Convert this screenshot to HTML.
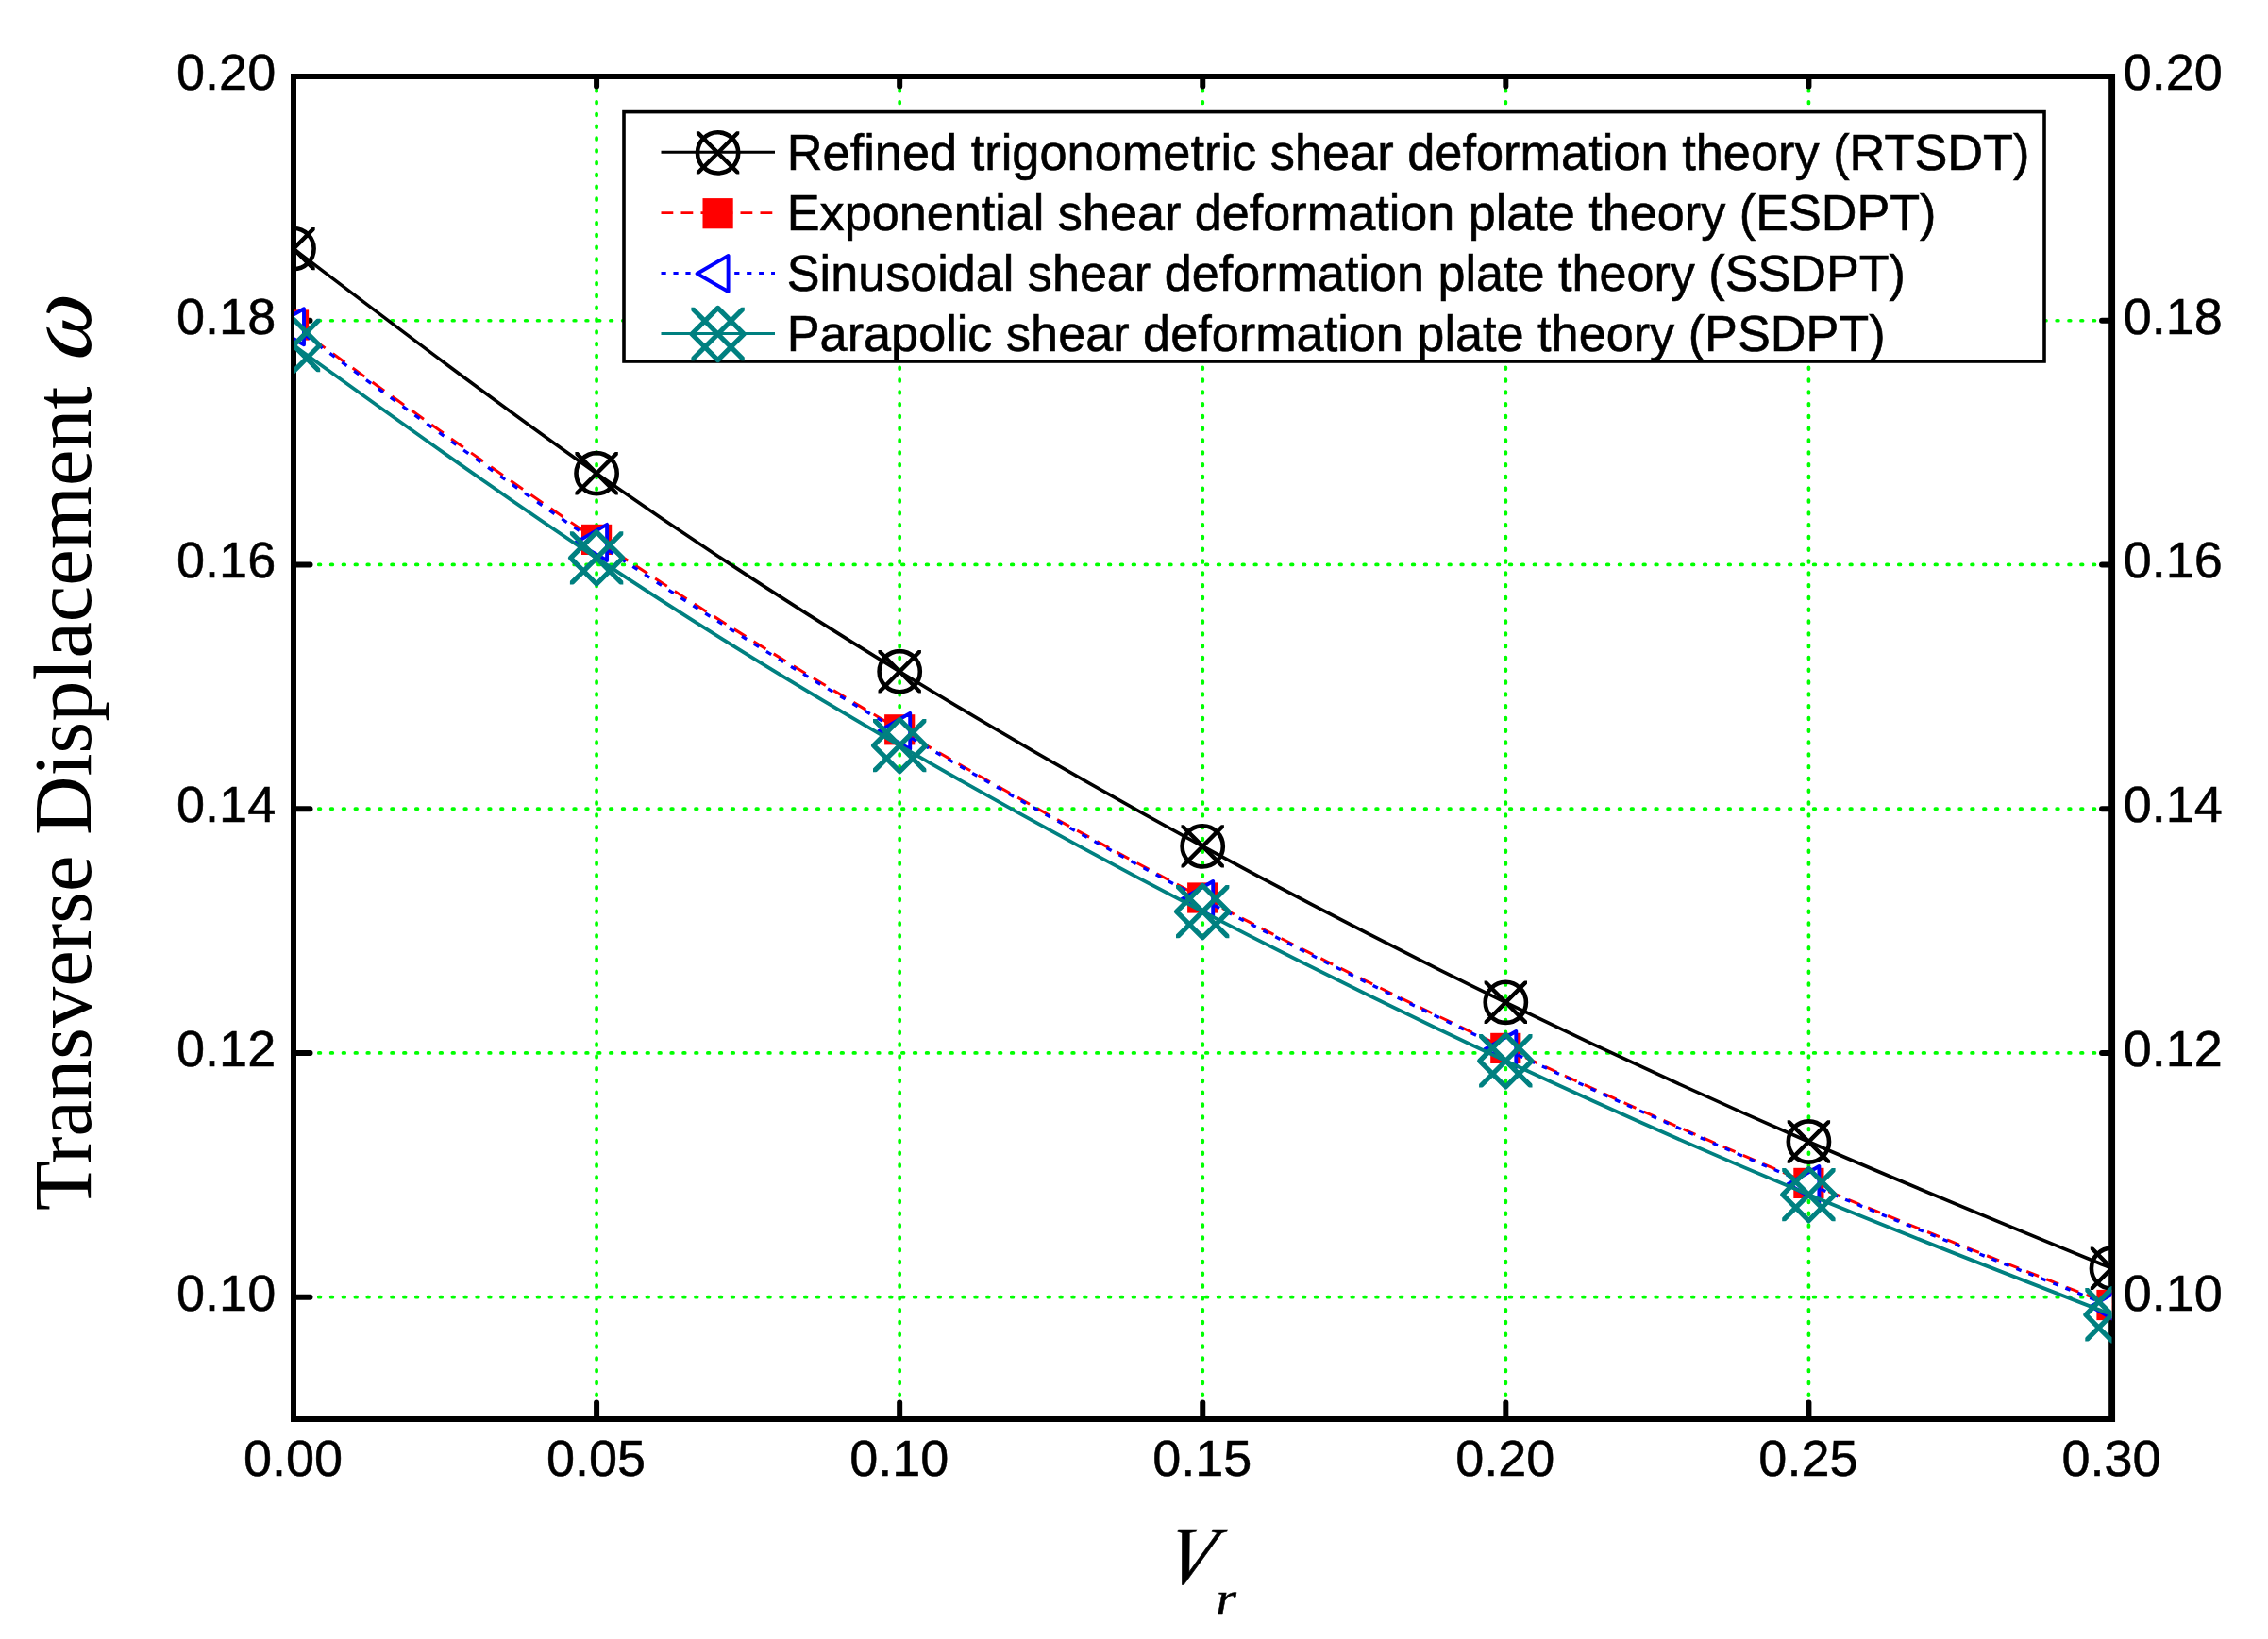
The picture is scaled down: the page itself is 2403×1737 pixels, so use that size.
<!DOCTYPE html>
<html lang="en"><head><meta charset="utf-8"><title>Transverse Displacement vs Vr</title>
<style>html,body{margin:0;padding:0;background:#fff}svg{display:block}.sans{font-family:"Liberation Sans",Arial,Helvetica,sans-serif}.serif{font-family:"Liberation Serif","Times New Roman",Times,serif}.tick{font-size:54px}.leg{font-size:53px}</style></head><body>
<svg width="2403" height="1737" viewBox="0 0 2403 1737">
<rect x="0" y="0" width="2403" height="1737" fill="#fff"/>
<defs>
<clipPath id="plot"><rect x="311.0" y="81.0" width="1926.5" height="1423.0"/></clipPath>
<clipPath id="ck"><rect x="-22.7" y="-22.7" width="45.4" height="45.4"/></clipPath>
<g id="mk" fill="none" stroke="#000"><circle cx="0" cy="0" r="21.6" stroke-width="4.6"/><g clip-path="url(#ck)"><path d="M-26,-26L26,26M26,-26L-26,26" stroke-width="4.4"/></g></g>
<rect id="mr" x="-16.1" y="-16.1" width="32.2" height="32.2" fill="#ff0000"/>
<path id="mb" d="M-22.00,0L11.00,-19.05L11.00,19.05Z" fill="#fff" stroke="#0000ff" stroke-width="3.9" stroke-linejoin="round"/>
<clipPath id="ct"><rect x="-28.2" y="-28.2" width="56.4" height="56.4"/></clipPath>
<g id="mt" fill="none" stroke="#008080" stroke-width="5.2"><path d="M0,-27.6L27.6,0L0,27.6L-27.6,0Z" stroke-linejoin="round"/><g clip-path="url(#ct)"><path d="M-32,-32L32,32M32,-32L-32,32"/></g></g>
</defs>
<g stroke="#00ff00" stroke-width="3.7" stroke-linecap="round" fill="none">
<line x1="632.08" y1="82.20" x2="632.08" y2="1504.0" stroke-dasharray="1.7 11.1"/>
<line x1="953.17" y1="82.20" x2="953.17" y2="1504.0" stroke-dasharray="1.7 11.1"/>
<line x1="1274.25" y1="82.20" x2="1274.25" y2="1504.0" stroke-dasharray="1.7 11.1"/>
<line x1="1595.33" y1="82.20" x2="1595.33" y2="1504.0" stroke-dasharray="1.7 11.1"/>
<line x1="1916.42" y1="82.20" x2="1916.42" y2="1504.0" stroke-dasharray="1.7 11.1"/>
<line x1="312.00" y1="339.73" x2="2237.5" y2="339.73" stroke-dasharray="1.7 11.177"/>
<line x1="312.00" y1="598.45" x2="2237.5" y2="598.45" stroke-dasharray="1.7 11.177"/>
<line x1="312.00" y1="857.18" x2="2237.5" y2="857.18" stroke-dasharray="1.7 11.177"/>
<line x1="312.00" y1="1115.91" x2="2237.5" y2="1115.91" stroke-dasharray="1.7 11.177"/>
<line x1="312.00" y1="1374.64" x2="2237.5" y2="1374.64" stroke-dasharray="1.7 11.177"/>
</g>
<g stroke="#000" stroke-width="6.0" stroke-linecap="round" fill="none">
<line x1="632.08" y1="1504.0" x2="632.08" y2="1486.5"/>
<line x1="632.08" y1="81.0" x2="632.08" y2="91.5"/>
<line x1="953.17" y1="1504.0" x2="953.17" y2="1486.5"/>
<line x1="953.17" y1="81.0" x2="953.17" y2="91.5"/>
<line x1="1274.25" y1="1504.0" x2="1274.25" y2="1486.5"/>
<line x1="1274.25" y1="81.0" x2="1274.25" y2="91.5"/>
<line x1="1595.33" y1="1504.0" x2="1595.33" y2="1486.5"/>
<line x1="1595.33" y1="81.0" x2="1595.33" y2="91.5"/>
<line x1="1916.42" y1="1504.0" x2="1916.42" y2="1486.5"/>
<line x1="1916.42" y1="81.0" x2="1916.42" y2="91.5"/>
<line x1="311.0" y1="339.73" x2="328.5" y2="339.73"/>
<line x1="2237.5" y1="339.73" x2="2227.0" y2="339.73"/>
<line x1="311.0" y1="598.45" x2="328.5" y2="598.45"/>
<line x1="2237.5" y1="598.45" x2="2227.0" y2="598.45"/>
<line x1="311.0" y1="857.18" x2="328.5" y2="857.18"/>
<line x1="2237.5" y1="857.18" x2="2227.0" y2="857.18"/>
<line x1="311.0" y1="1115.91" x2="328.5" y2="1115.91"/>
<line x1="2237.5" y1="1115.91" x2="2227.0" y2="1115.91"/>
<line x1="311.0" y1="1374.64" x2="328.5" y2="1374.64"/>
<line x1="2237.5" y1="1374.64" x2="2227.0" y2="1374.64"/>
</g>
<rect x="311.0" y="81.0" width="1926.5" height="1423.0" fill="none" stroke="#000" stroke-width="6.0"/>
<line x1="2237.7" y1="78.0" x2="2237.7" y2="1507.0" stroke="#000" stroke-width="6.7"/>
<g clip-path="url(#plot)">
<path d="M311.0,263.6C418.0,345.0 525.1,426.4 632.1,501.7" fill="none" stroke="#000" stroke-width="3.6" stroke-linecap="round"/>
<path d="M632.1,501.7C739.1,577.0 846.1,646.3 953.2,711.7" fill="none" stroke="#000" stroke-width="3.6" stroke-linecap="round"/>
<path d="M953.2,711.7C1060.2,777.1 1167.2,838.6 1274.2,896.9" fill="none" stroke="#000" stroke-width="3.6" stroke-linecap="round"/>
<path d="M1274.2,896.9C1381.3,955.2 1488.3,1010.2 1595.3,1062.3" fill="none" stroke="#000" stroke-width="3.6" stroke-linecap="round"/>
<path d="M1595.3,1062.3C1702.4,1114.4 1809.4,1163.5 1916.4,1210.0" fill="none" stroke="#000" stroke-width="3.6" stroke-linecap="round"/>
<path d="M1916.4,1210.0C2023.4,1256.5 2130.5,1300.3 2237.5,1344.2" fill="none" stroke="#000" stroke-width="3.6" stroke-linecap="round"/>
<use href="#mk" x="311.0" y="263.6"/>
<use href="#mk" x="632.1" y="501.7"/>
<use href="#mk" x="953.2" y="711.7"/>
<use href="#mk" x="1274.2" y="896.9"/>
<use href="#mk" x="1595.3" y="1062.3"/>
<use href="#mk" x="1916.4" y="1210.0"/>
<use href="#mk" x="2237.5" y="1344.2"/>
<path d="M311.0,344.5C418.0,422.2 525.1,499.8 632.1,571.9" fill="none" stroke="#ff0000" stroke-width="3.0" stroke-dasharray="15.69 10.05" stroke-linecap="butt"/>
<path d="M632.1,571.9C739.1,644.0 846.1,710.4 953.2,773.3" fill="none" stroke="#ff0000" stroke-width="3.0" stroke-dasharray="15.11 9.68" stroke-linecap="butt"/>
<path d="M953.2,773.3C1060.2,836.2 1167.2,895.4 1274.2,951.5" fill="none" stroke="#ff0000" stroke-width="3.0" stroke-dasharray="14.64 9.38" stroke-linecap="butt"/>
<path d="M1274.2,951.5C1381.3,1007.6 1488.3,1060.6 1595.3,1110.9" fill="none" stroke="#ff0000" stroke-width="3.0" stroke-dasharray="14.29 9.15" stroke-linecap="butt"/>
<path d="M1595.3,1110.9C1702.4,1161.2 1809.4,1209.0 1916.4,1253.9" fill="none" stroke="#ff0000" stroke-width="3.0" stroke-dasharray="14.01 8.98" stroke-linecap="butt"/>
<path d="M1916.4,1253.9C2023.4,1298.8 2130.5,1340.9 2237.5,1383.0" fill="none" stroke="#ff0000" stroke-width="3.0" stroke-dasharray="13.80 8.84" stroke-linecap="butt"/>
<use href="#mr" x="311.0" y="344.5"/>
<use href="#mr" x="632.1" y="571.9"/>
<use href="#mr" x="953.2" y="773.3"/>
<use href="#mr" x="1274.2" y="951.5"/>
<use href="#mr" x="1595.3" y="1110.9"/>
<use href="#mr" x="1916.4" y="1253.9"/>
<use href="#mr" x="2237.5" y="1383.0"/>
<path d="M311.0,346.3C418.0,424.6 525.1,503.0 632.1,574.9" fill="none" stroke="#0000ff" stroke-width="3.3" stroke-dasharray="6.38 9.51" stroke-linecap="butt"/>
<path d="M632.1,574.9C739.1,646.8 846.1,712.4 953.2,774.9" fill="none" stroke="#0000ff" stroke-width="3.3" stroke-dasharray="6.13 9.13" stroke-linecap="butt"/>
<path d="M953.2,774.9C1060.2,837.4 1167.2,896.9 1274.2,953.0" fill="none" stroke="#0000ff" stroke-width="3.3" stroke-dasharray="5.95 8.86" stroke-linecap="butt"/>
<path d="M1274.2,953.0C1381.3,1009.1 1488.3,1061.8 1595.3,1112.0" fill="none" stroke="#0000ff" stroke-width="3.3" stroke-dasharray="5.80 8.65" stroke-linecap="butt"/>
<path d="M1595.3,1112.0C1702.4,1162.2 1809.4,1210.0 1916.4,1255.0" fill="none" stroke="#0000ff" stroke-width="3.3" stroke-dasharray="5.69 8.48" stroke-linecap="butt"/>
<path d="M1916.4,1255.0C2023.4,1300.0 2130.5,1342.3 2237.5,1384.5" fill="none" stroke="#0000ff" stroke-width="3.3" stroke-dasharray="5.61 8.36" stroke-linecap="butt"/>
<use href="#mb" x="311.0" y="346.3"/>
<use href="#mb" x="632.1" y="574.9"/>
<use href="#mb" x="953.2" y="774.9"/>
<use href="#mb" x="1274.2" y="953.0"/>
<use href="#mb" x="1595.3" y="1112.0"/>
<use href="#mb" x="1916.4" y="1255.0"/>
<use href="#mb" x="2237.5" y="1384.5"/>
<path d="M311.0,366.0C418.0,443.1 525.1,520.1 632.1,591.4" fill="none" stroke="#008080" stroke-width="3.8" stroke-linecap="round"/>
<path d="M632.1,591.4C739.1,662.7 846.1,728.1 953.2,790.1" fill="none" stroke="#008080" stroke-width="3.8" stroke-linecap="round"/>
<path d="M953.2,790.1C1060.2,852.1 1167.2,910.5 1274.2,966.1" fill="none" stroke="#008080" stroke-width="3.8" stroke-linecap="round"/>
<path d="M1274.2,966.1C1381.3,1021.7 1488.3,1074.3 1595.3,1124.3" fill="none" stroke="#008080" stroke-width="3.8" stroke-linecap="round"/>
<path d="M1595.3,1124.3C1702.4,1174.3 1809.4,1221.7 1916.4,1266.1" fill="none" stroke="#008080" stroke-width="3.8" stroke-linecap="round"/>
<path d="M1916.4,1266.1C2023.4,1310.5 2130.5,1351.9 2237.5,1393.3" fill="none" stroke="#008080" stroke-width="3.8" stroke-linecap="round"/>
<use href="#mt" x="311.0" y="366.0"/>
<use href="#mt" x="632.1" y="591.4"/>
<use href="#mt" x="953.2" y="790.1"/>
<use href="#mt" x="1274.2" y="966.1"/>
<use href="#mt" x="1595.3" y="1124.3"/>
<use href="#mt" x="1916.4" y="1266.1"/>
<use href="#mt" x="2237.5" y="1393.3"/>
</g>
<rect x="661.0" y="118.6" width="1505.0" height="264.4" fill="#fff" stroke="#000" stroke-width="3.6"/>
<line x1="700.5" y1="161.3" x2="821.0" y2="161.3" stroke="#000" stroke-width="3"/>
<use href="#mk" x="760.6" y="161.9"/>
<line x1="700.5" y1="225.6" x2="821.0" y2="225.6" stroke="#ff0000" stroke-width="2.8" stroke-dasharray="12.8 8.2"/>
<use href="#mr" x="760.6" y="226.2"/>
<line x1="700.5" y1="289.4" x2="821.0" y2="289.4" stroke="#0000ff" stroke-width="3" stroke-dasharray="5.2 7.75"/>
<use href="#mb" x="760.6" y="290.0"/>
<line x1="700.5" y1="353.4" x2="821.0" y2="353.4" stroke="#008080" stroke-width="3"/>
<use href="#mt" x="760.6" y="354.0"/>
<g class="sans leg" fill="#000" stroke="#000" stroke-width="0.6">
<text x="833.8" y="179.9" textLength="1316.7" lengthAdjust="spacingAndGlyphs">Refined trigonometric shear deformation theory (RTSDT)</text>
<text x="833.8" y="244.2" textLength="1217.6" lengthAdjust="spacingAndGlyphs">Exponential shear deformation plate theory (ESDPT)</text>
<text x="833.8" y="308.0" textLength="1185.1" lengthAdjust="spacingAndGlyphs">Sinusoidal shear deformation plate theory (SSDPT)</text>
<text x="833.8" y="372.0" textLength="1163.8" lengthAdjust="spacingAndGlyphs">Parapolic shear deformation plate theory (PSDPT)</text>
</g>
<g class="sans tick" fill="#000" stroke="#000" stroke-width="0.5">
<text x="292.2" y="94.9" text-anchor="end">0.20</text>
<text x="2249.8" y="94.9">0.20</text>
<text x="292.2" y="353.6" text-anchor="end">0.18</text>
<text x="2249.8" y="353.6">0.18</text>
<text x="292.2" y="612.4" text-anchor="end">0.16</text>
<text x="2249.8" y="612.4">0.16</text>
<text x="292.2" y="871.1" text-anchor="end">0.14</text>
<text x="2249.8" y="871.1">0.14</text>
<text x="292.2" y="1129.8" text-anchor="end">0.12</text>
<text x="2249.8" y="1129.8">0.12</text>
<text x="292.2" y="1388.5" text-anchor="end">0.10</text>
<text x="2249.8" y="1388.5">0.10</text>
<text x="310.5" y="1564.2" text-anchor="middle">0.00</text>
<text x="631.6" y="1564.2" text-anchor="middle">0.05</text>
<text x="952.7" y="1564.2" text-anchor="middle">0.10</text>
<text x="1273.8" y="1564.2" text-anchor="middle">0.15</text>
<text x="1594.8" y="1564.2" text-anchor="middle">0.20</text>
<text x="1915.9" y="1564.2" text-anchor="middle">0.25</text>
<text x="2237.0" y="1564.2" text-anchor="middle">0.30</text>
</g>
<g class="serif" fill="#000">
<text transform="translate(1232,1678) skewX(-12) scale(0.92,1)" font-size="87" font-style="italic" stroke="#000" stroke-width="0.7">V</text>
<text transform="translate(1288.3,1710.8) scale(1.1,1)" font-size="50.5" font-style="italic" stroke="#000" stroke-width="0.5">r</text>
<text transform="translate(96.2,1283) rotate(-90)" font-size="86.5">Transverse Displacement</text>
<text transform="translate(96.2,387) rotate(-90) skewX(-16) scale(1.05,1)" font-size="100">ω</text>
</g>
</svg></body></html>
